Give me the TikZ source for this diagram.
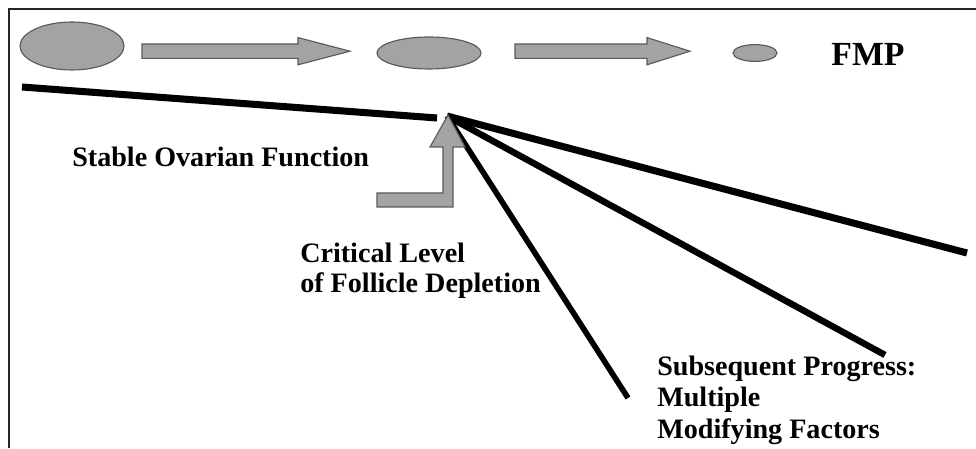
\documentclass[tikz,border=0pt]{standalone}
\usepackage{fontspec}
\setmainfont{Liberation Serif}
\usepackage{xcolor}
\usepackage{tikz}
\usetikzlibrary{shapes.geometric}
\definecolor{fgray}{HTML}{A3A3A3}
\definecolor{fedge}{HTML}{5A5A5A}

\begin{document}
\begin{tikzpicture}[x=1cm, y=1cm,
  follicle/.style={ellipse, fill=fgray, draw=fedge, line width=0.8pt, inner sep=0pt},
  fatarrow/.style={fill=fgray, draw=fedge, line width=0.8pt, line join=miter},
  trend/.style={draw=black, line width=5pt},
  label/.style={font=\fontsize{20}{21.5}\selectfont\bfseries, inner sep=0pt, align=left}]
\useasboundingbox (0,0) rectangle (24.4,11.2);
\fill[white] (0,0) rectangle (24.4,11.2);
% frame
\draw[black!85, line width=1.4pt] (0.225,0) -- (0.225,10.975) -- (24.4,10.975);
% follicle pool shrinking towards FMP
\node[follicle, minimum width=2.6cm, minimum height=1.2cm] (pool1) at (1.80,10.05) {};
\node[follicle, minimum width=2.6cm, minimum height=0.8cm] (pool2) at (10.725,9.875) {};
\node[follicle, minimum width=1.1cm, minimum height=0.42cm] (pool3) at (18.875,9.875) {};
\node[font=\fontsize{24}{28}\selectfont\bfseries, inner sep=0pt] (fmp) at (21.70,9.85) {FMP};
\filldraw[fatarrow] (3.55,9.74) -- (7.45,9.74) -- (7.45,9.58) -- (8.75,9.92)
  -- (7.45,10.26) -- (7.45,10.10) -- (3.55,10.10) -- cycle;
\filldraw[fatarrow] (12.875,9.74) -- (16.175,9.74) -- (16.175,9.58) -- (17.25,9.92)
  -- (16.175,10.26) -- (16.175,10.10) -- (12.875,10.10) -- cycle;
% decline lines
\coordinate (start) at (0.55,9.025);
\coordinate (knee) at (10.925,8.25);
\coordinate (apex) at (11.175,8.30);
\coordinate (endslow) at (24.175,4.875);
\coordinate (endmid) at (22.125,2.325);
\coordinate (endfast) at (15.70,1.25);
\draw[trend] (start) -- (knee);
\draw[trend] (apex) -- (endslow);
\draw[trend, line width=4.6pt] (apex) -- (endmid);
\draw[trend, line width=4pt] (apex) -- (endfast);
% bent arrow to the critical level
\filldraw[fatarrow] (9.425,6.025) -- (11.325,6.025) -- (11.325,7.525) -- (11.625,7.525)
  -- (11.20,8.325) -- (10.75,7.525) -- (11.075,7.525) -- (11.075,6.375) -- (9.425,6.375) -- cycle;
% labels (base = last line)
\node[label, anchor=base west] (stable) at (1.80,7.025) {Stable Ovarian Function};
\node[label, anchor=base west] (critical) at (7.50,3.875) {Critical Level\\of Follicle Depletion};
\node[label, anchor=base west, font=\fontsize{20}{22.4}\selectfont\bfseries] (progress) at (16.425,0.25)
  {Subsequent Progress:\\Multiple\\Modifying Factors};
\end{tikzpicture}
\end{document}
